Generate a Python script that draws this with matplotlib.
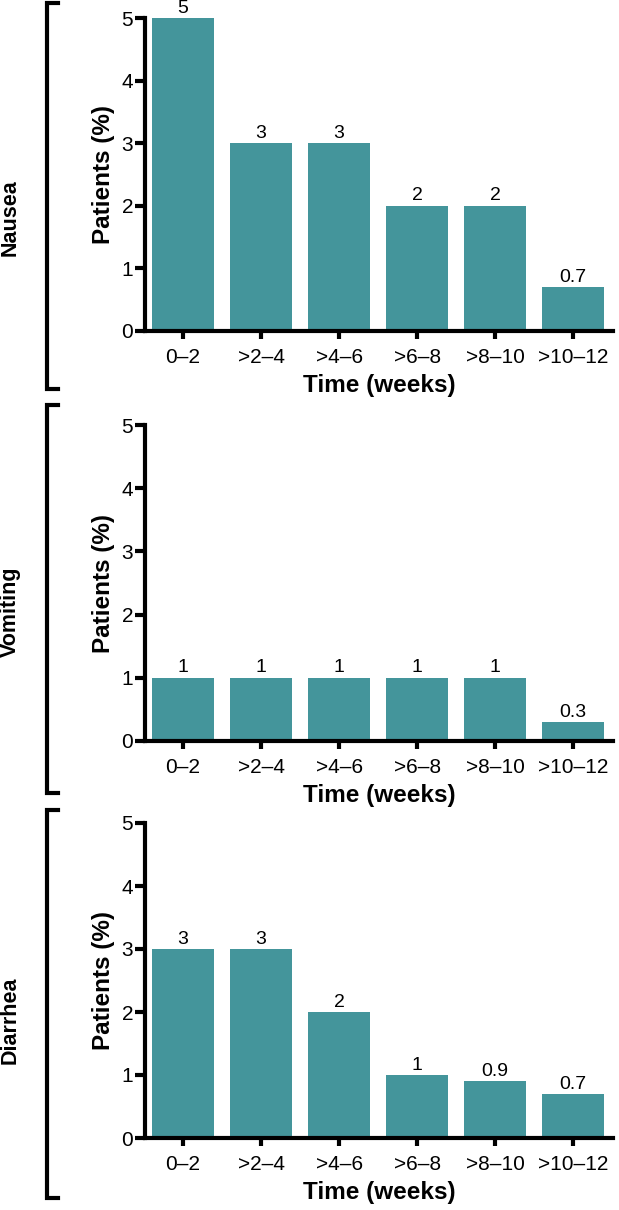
import matplotlib.pyplot as plt
from matplotlib.lines import Line2D

plt.rcParams['font.family'] = ['Liberation Sans', 'DejaVu Sans']

categories = ['0–2', '>2–4', '>4–6', '>6–8', '>8–10', '>10–12']
panel_names = ['Nausea', 'Vomiting', 'Diarrhea']
nausea = [5, 3, 3, 2, 2, 0.7]
vomiting = [1, 1, 1, 1, 1, 0.3]
diarrhea = [3, 3, 2, 1, 0.9, 0.7]
series = [nausea, vomiting, diarrhea]

W, H = 619, 1210
bar_color = '#44959B'
lw = 3.0

fig = plt.figure(figsize=(W / 100, H / 100), dpi=100)

# pixel layout: (axes top, axes bottom, bracket top, bracket bottom, label center y)
layout = [
    (18, 331, 3, 389, 218),
    (425, 741, 405, 793, 612),
    (823, 1138, 810, 1198, 1020),
]
ax_left, ax_right = 145, 613

for name, vals, (top, bot, btop, bbot, lab_y) in zip(panel_names, series, layout):
    ax = fig.add_axes([ax_left / W, 1 - bot / H, (ax_right - ax_left) / W, (bot - top) / H])
    x = range(len(categories))
    ax.bar(x, vals, width=0.8, color=bar_color, edgecolor='none')
    for xi, v in zip(x, vals):
        ax.annotate(f'{v:g}', (xi, v), xytext=(0, 1), textcoords='offset points',
                    ha='center', va='bottom', fontsize=14, annotation_clip=False)
    ax.set_xlim(-0.487, 5.51)
    ax.set_ylim(0, 5)
    ax.set_yticks(range(6))
    ax.set_xticks(list(x))
    ax.set_xticklabels(categories)
    ax.tick_params(axis='both', labelsize=15, width=lw, length=7, pad=1.5)
    ax.tick_params(axis='x', length=6, pad=6)
    for s in ['top', 'right']:
        ax.spines[s].set_visible(False)
    for s in ['left', 'bottom']:
        ax.spines[s].set_linewidth(lw)
    ax.set_ylabel('Patients (%)', fontsize=17.5, fontweight='bold', labelpad=5)
    ax.set_xlabel('Time (weeks)', fontsize=17.5, fontweight='bold', labelpad=5)

    # bracket on the left
    bx, sx = 47.5 / W, 58 / W
    yt, yb = 1 - btop / H, 1 - bbot / H
    fig.add_artist(Line2D([sx, bx, bx, sx], [yt, yt, yb, yb], color='black',
                          lw=lw, solid_joinstyle='miter', transform=fig.transFigure))
    fig.text(10 / W, 1 - lab_y / H, name, rotation=90, ha='center', va='center',
             fontsize=15.5, fontweight='bold')

plt.savefig('out.png', dpi=100)
